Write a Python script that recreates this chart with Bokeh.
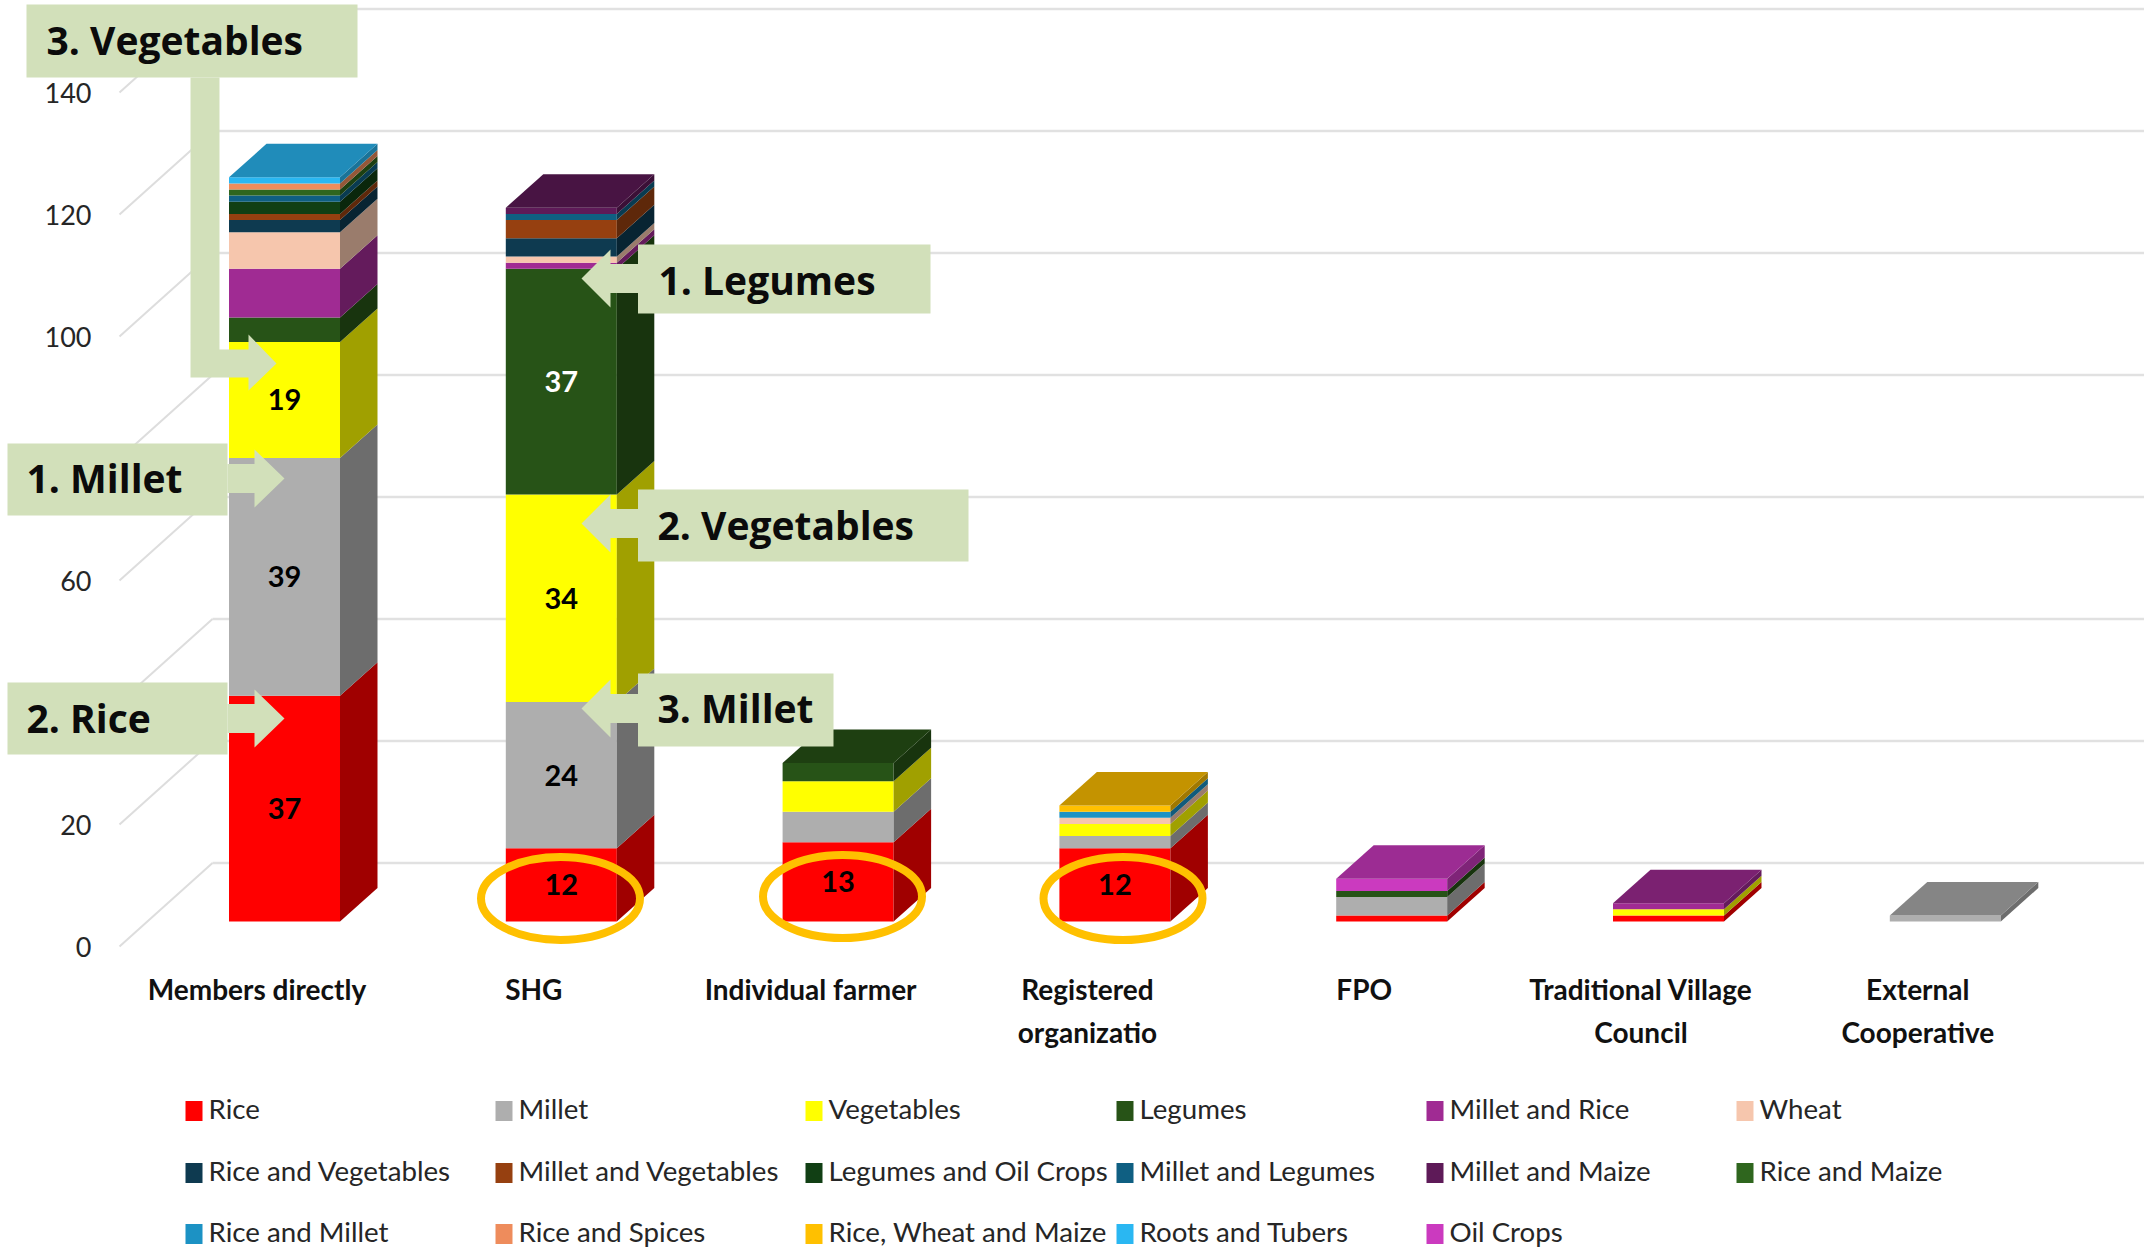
from bokeh.plotting import figure
from bokeh.core.properties import value
from bokeh.embed import file_html
from bokeh.resources import INLINE

categories = ["Members directly", "SHG", "Individual farmer", "Registered\norganizatio",
              "FPO", "Traditional Village\nCouncil", "External\nCooperative"]
y_ticks = [0, 20, 40, 60, 80, 100, 120, 140]

rice = [37, 12, 13, 12, 1, 1, 0]
millet = [39, 24, 5, 2, 3, 0, 1]
vegetables = [19, 34, 5, 2, 0, 1, 0]
legumes = [4, 37, 3, 0, 1, 0, 0]
millet_and_rice = [8, 1, 0, 0, 0, 1, 0]
wheat = [6, 1, 0, 1, 0, 0, 0]
rice_and_vegetables = [2, 3, 0, 0, 0, 0, 0]
millet_and_vegetables = [1, 3, 0, 0, 0, 0, 0]
legumes_and_oil_crops = [2, 0, 0, 0, 0, 0, 0]
millet_and_legumes = [1, 1, 0, 0, 0, 0, 0]
millet_and_maize = [0, 1, 0, 0, 0, 0, 0]
rice_and_maize = [1, 0, 0, 0, 0, 0, 0]
rice_and_millet = [0, 0, 0, 1, 0, 0, 0]
rice_and_spices = [1, 0, 0, 0, 0, 0, 0]
rice_wheat_maize = [0, 0, 0, 1, 0, 0, 0]
roots_and_tubers = [1, 0, 0, 0, 0, 0, 0]
oil_crops = [0, 0, 0, 0, 2, 0, 0]

series_names = ["Rice", "Millet", "Vegetables", "Legumes", "Millet and Rice", "Wheat",
                "Rice and Vegetables", "Millet and Vegetables", "Legumes and Oil Crops",
                "Millet and Legumes", "Millet and Maize", "Rice and Maize",
                "Rice and Millet", "Rice and Spices", "Rice, Wheat and Maize",
                "Roots and Tubers", "Oil Crops"]
series_values = [rice, millet, vegetables, legumes, millet_and_rice, wheat,
                 rice_and_vegetables, millet_and_vegetables, legumes_and_oil_crops,
                 millet_and_legumes, millet_and_maize, rice_and_maize,
                 rice_and_millet, rice_and_spices, rice_wheat_maize,
                 roots_and_tubers, oil_crops]
series_colors = ["#FF0000", "#AEAEAE", "#FFFF00", "#275317", "#A02B93", "#F6C6AD",
                 "#0E3A50", "#964010", "#113F14", "#0F5F82", "#5E1A58", "#2F661E",
                 "#1C92C4", "#EE8C5C", "#FFC000", "#2AB7F2", "#CB3ABF"]

# ---- page geometry ----
W, H = 2144, 1250
X0, X_STEP = 284.0, 276.8      # page x of first bar centre, distance between bars
Y0, Y_UNIT = 921.0, 6.1        # page y of value 0 at the bars' front, px per unit


def dx(px):
    return px / X_STEP


def dv(px):
    return px / Y_UNIT


def X(px):
    return (px - X0) / X_STEP


def Y(px):
    return (Y0 - px) / Y_UNIT


p = figure(width=W, height=H, x_range=(X(0), X(W)), y_range=(Y(H), Y(0)),
           x_axis_type=None, y_axis_type=None, toolbar_location=None,
           output_backend="svg", min_border=0, outline_line_color=None,
           background_fill_color="white", border_fill_color="white")
p.grid.visible = False

BAR_W = dx(111)
DEPTH_X, DEPTH_V = dx(37.5), dv(33.5)
BODY = value("Lato")
HEAD = value("Open Sans")


def shade(col, f):
    c = [int(col[i:i + 2], 16) for i in (1, 3, 5)]
    return "#%02X%02X%02X" % tuple(int(v * f) for v in c)


# ---- walls ----
wall_rise = Y(862.5)
wall_x, front_x = X(212), X(119)
front_drop = Y(946)
p.segment(x0=[wall_x] * len(y_ticks), x1=[X(2144)] * len(y_ticks),
          y0=[t + wall_rise for t in y_ticks], y1=[t + wall_rise for t in y_ticks],
          line_color="#E1E1E1", line_width=2.5)
p.segment(x0=[front_x] * len(y_ticks), x1=[wall_x] * len(y_ticks),
          y0=[t + front_drop for t in y_ticks], y1=[t + wall_rise for t in y_ticks],
          line_color="#DDDDDD", line_width=2)
p.text(x=[X(91)] * len(y_ticks), y=[t + front_drop for t in y_ticks],
       text=[str(t) for t in y_ticks], text_font=BODY, text_font_size="27px",
       text_color="#262626", text_align="right", text_baseline="middle")

# ---- stacked bars with depth ----
bottoms = [0] * len(categories)
label_rows = []
last_color = [None] * len(categories)
for vals, col in zip(series_values, series_colors):
    idx = [i for i, v in enumerate(vals) if v > 0]
    tops = [bottoms[i] + vals[i] for i in idx]
    base = [bottoms[i] for i in idx]
    p.vbar(x=idx, width=BAR_W, bottom=base, top=tops, fill_color=col, line_color=None)
    xs, ys = [], []
    for i, b, t in zip(idx, base, tops):
        r = i + BAR_W / 2
        xs.append([r, r + DEPTH_X, r + DEPTH_X, r])
        ys.append([b, b + DEPTH_V, t + DEPTH_V, t])
        last_color[i] = col
        if vals[i] >= 12:
            label_rows.append((i, (b + t) / 2, str(vals[i]), "#FFFFFF" if col == "#275317" else "#000000"))
    p.patches(xs, ys, fill_color=shade(col, 0.63), line_color=None)
    for i in idx:
        bottoms[i] += vals[i]

for i, col in enumerate(last_color):
    l, r, t = i - BAR_W / 2, i + BAR_W / 2, bottoms[i]
    p.patch([l, r, r + DEPTH_X, l + DEPTH_X], [t, t, t + DEPTH_V, t + DEPTH_V],
            fill_color=shade(col, 0.77), line_color=None)

p.text(x=[r[0] for r in label_rows], y=[r[1] for r in label_rows], text=[r[2] for r in label_rows],
       text_color=[r[3] for r in label_rows], text_font=BODY, text_font_size="29px",
       text_font_style="bold", text_align="center", text_baseline="middle")

# ---- category labels ----
cx, cy, ct = [], [], []
for i, name in enumerate(categories):
    for j, line in enumerate(name.split("\n")):
        cx.append(i + dx(-27.5))
        cy.append(Y(988.5 + 42.5 * j))
        ct.append(line)
p.text(x=cx, y=cy, text=ct, text_font=BODY, text_font_size="28px", text_font_style="bold",
       text_color="#111111", text_align="center", text_baseline="middle")

# ---- legend ----
legend_cols = [185, 495, 805, 1116, 1426, 1736]
legend_rows = [1110.5, 1172.5, 1233.5]
lx, ly = [], []
for n in range(len(series_names)):
    lx.append(legend_cols[n % 6])
    ly.append(legend_rows[n // 6])
p.rect(x=[X(v + 8.5) for v in lx], y=[Y(v) for v in ly], width=dx(17), height=dv(20),
       fill_color=series_colors, line_color=None)
p.text(x=[X(v + 23) for v in lx], y=[Y(v - 2.5) for v in ly], text=series_names, text_font=BODY,
       text_font_size="27.7px", text_color="#262626", text_align="left", text_baseline="middle")

# ---- highlight ellipses ----
p.ellipse(x=[X(560), X(842), X(1122.5)], y=[Y(898), Y(896), Y(898)],
          width=dx(159), height=dv(83), fill_color=None, line_color="#FFC000", line_width=8)

# ---- callouts ----
GREEN = "#D2E0BA"


def poly(points):
    p.patch([X(a) for a, b in points], [Y(b) for a, b in points], fill_color=GREEN, line_color=None)


def box(l, r, t, b):
    poly([(l, t), (r, t), (r, b), (l, b)])


def arrow(x0, base, tip, cy, sh, hh):
    poly([(x0, cy - sh), (base, cy - sh), (base, cy - hh), (tip, cy), (base, cy + hh), (base, cy + sh), (x0, cy + sh)])


box(26, 357, 4, 77)
poly([(190, 77), (219, 77), (219, 349), (248, 349), (248, 334), (276, 363), (248, 390), (248, 377), (190, 377)])
box(7, 227, 443, 515)
arrow(227, 254, 284, 478, 14.5, 29)
box(7, 227, 682, 754)
arrow(227, 254, 284, 718, 14.5, 29)
box(637.5, 930, 244, 313)
arrow(638, 610, 581, 278, 14.5, 29)
box(637.5, 968, 489, 561)
arrow(638, 610, 581, 523, 14.5, 29)
box(637.5, 833, 673, 746)
arrow(638, 610, 581, 708, 14.5, 29)

call_x = [46, 26, 26, 658, 657, 657]
call_y = [38.5, 476.5, 716.5, 278.5, 523.5, 706.5]
call_t = ["3. Vegetables", "1. Millet", "2. Rice", "1. Legumes", "2. Vegetables", "3. Millet"]
p.text(x=[X(v) for v in call_x], y=[Y(v) for v in call_y], text=call_t, text_font=HEAD,
       text_font_size="39px", text_font_style="bold", text_color="#0B0B0B",
       text_align="left", text_baseline="middle")

open("out.html", "w").write(file_html(p, INLINE))
